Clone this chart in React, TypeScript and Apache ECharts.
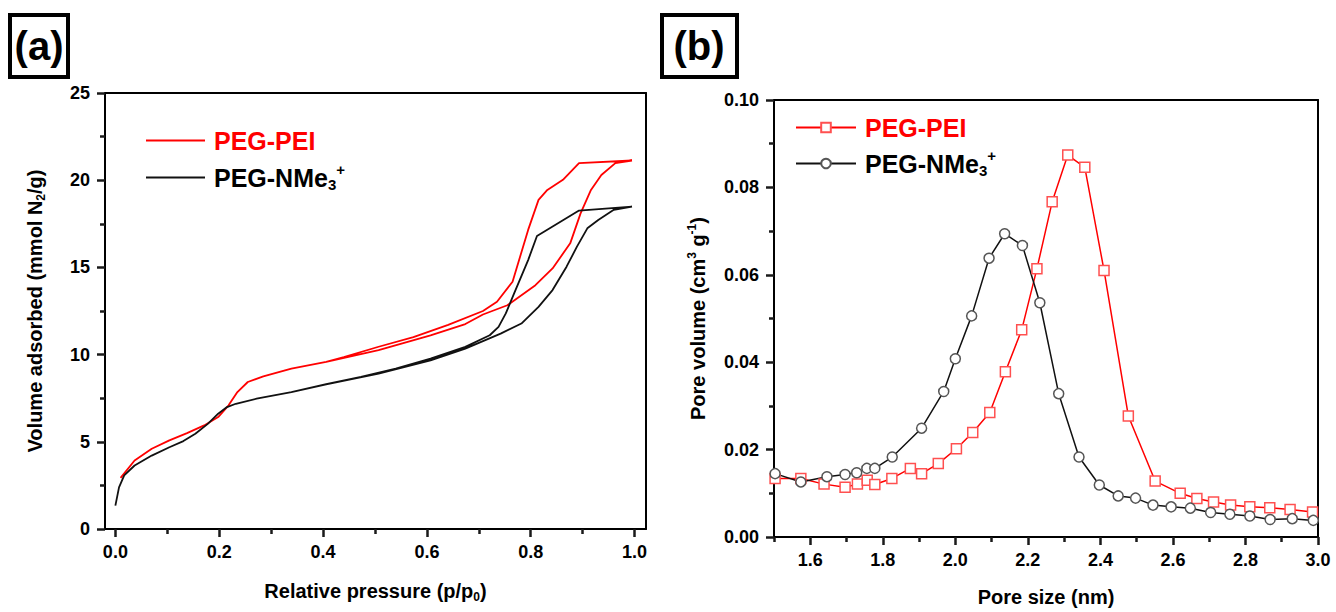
import React, { useEffect, useRef } from 'react';
import * as echarts from 'echarts';

// ---------- Panel (a): N2 isotherms ----------
const PEI_ADS_P = [0.01, 0.037, 0.07, 0.104, 0.138, 0.171, 0.198, 0.218, 0.235, 0.255, 0.285, 0.339, 0.406, 0.507, 0.607, 0.674, 0.708, 0.755, 0.809, 0.842, 0.876, 0.896, 0.916, 0.936, 0.963, 0.995];
const PEI_ADS_V = [2.93, 3.93, 4.6, 5.08, 5.5, 5.94, 6.42, 7.09, 7.85, 8.43, 8.75, 9.2, 9.58, 10.25, 11.1, 11.75, 12.3, 12.83, 13.98, 14.94, 16.38, 18.1, 19.44, 20.3, 20.98, 21.13];
const PEI_DES_P = [0.995, 0.893, 0.862, 0.832, 0.815, 0.795, 0.765, 0.735, 0.708, 0.641, 0.574, 0.507, 0.44, 0.406];
const PEI_DES_V = [21.13, 20.98, 20.02, 19.44, 18.87, 17.15, 14.18, 13.03, 12.5, 11.7, 11.0, 10.45, 9.85, 9.58];

const NME_ADS_P = [0, 0.007, 0.017, 0.037, 0.07, 0.104, 0.131, 0.154, 0.178, 0.198, 0.215, 0.232, 0.272, 0.339, 0.406, 0.507, 0.607, 0.674, 0.742, 0.782, 0.815, 0.842, 0.869, 0.889, 0.909, 0.93, 0.96, 0.995];
const NME_ADS_V = [1.34, 2.39, 3.07, 3.64, 4.21, 4.69, 5.04, 5.46, 6.03, 6.61, 6.99, 7.18, 7.47, 7.85, 8.3, 8.91, 9.67, 10.34, 11.2, 11.78, 12.74, 13.7, 15.04, 16.19, 17.24, 17.72, 18.3, 18.49];
const NME_DES_P = [0.995, 0.893, 0.812, 0.795, 0.768, 0.752, 0.738, 0.721, 0.674, 0.607, 0.54, 0.473, 0.406];
const NME_DES_V = [18.49, 18.26, 16.8, 15.42, 13.51, 12.36, 11.59, 11.11, 10.44, 9.77, 9.2, 8.72, 8.3];

const A_X_MAJOR = [0, 0.2, 0.4, 0.6, 0.8, 1.0];
const A_X_MINOR = [0.1, 0.3, 0.5, 0.7, 0.9];

// ---------- Panel (b): pore size distribution ----------
const PEI_SIZE = [1.503, 1.574, 1.638, 1.696, 1.73, 1.757, 1.778, 1.825, 1.876, 1.907, 1.953, 2.003, 2.048, 2.095, 2.138, 2.183, 2.225, 2.267, 2.31, 2.357, 2.41, 2.477, 2.551, 2.62, 2.666, 2.712, 2.759, 2.812, 2.867, 2.923, 2.985];
const PEI_VOL = [0.0134, 0.0134, 0.0121, 0.0114, 0.0121, 0.013, 0.012, 0.0134, 0.0157, 0.0145, 0.0168, 0.0202, 0.0239, 0.0285, 0.0378, 0.0474, 0.0614, 0.0767, 0.0874, 0.0846, 0.061, 0.0277, 0.0128, 0.01, 0.0088, 0.008, 0.0073, 0.0069, 0.0067, 0.0063, 0.0057];
const NME_SIZE = [1.503, 1.574, 1.646, 1.696, 1.728, 1.756, 1.778, 1.826, 1.907, 1.968, 2.0, 2.045, 2.093, 2.136, 2.185, 2.233, 2.285, 2.341, 2.397, 2.449, 2.497, 2.545, 2.595, 2.648, 2.704, 2.757, 2.812, 2.868, 2.929, 2.987];
const NME_VOL = [0.0145, 0.0126, 0.0138, 0.0143, 0.0147, 0.0157, 0.0157, 0.0183, 0.0249, 0.0333, 0.0408, 0.0506, 0.0638, 0.0694, 0.0667, 0.0536, 0.0328, 0.0183, 0.0119, 0.0094, 0.0089, 0.0073, 0.0069, 0.0066, 0.0056, 0.0052, 0.0048, 0.004, 0.0042, 0.0038];

const B_X_MAJOR = [1.6, 1.8, 2.0, 2.2, 2.4, 2.6, 2.8, 3.0];
const B_X_MINOR = [1.5, 1.7, 1.9, 2.1, 2.3, 2.5, 2.7, 2.9];

const FONT = '"Liberation Sans", Arial, Helvetica, sans-serif';
const RED = '#ff0000';
const BLACK = '#111111';
const TICK = '#1a1a1a';

export default function App() {
  const ref = useRef<HTMLDivElement>(null);
  useEffect(() => {
    const chart = echarts.init(ref.current as HTMLDivElement, null, { renderer: 'svg' });
    const zip = (xs: number[], ys: number[]) => xs.map((x, i) => [x, ys[i]]);

    const tickFont = () => ({ fontFamily: FONT, fontWeight: 'bold' as const, fontSize: 18, color: '#000' });
    const lineSt = () => ({ color: '#000', width: 2 });
    const tickSt = () => ({ color: TICK, width: 2.5 });
    const axisLine = () => ({ show: true, onZero: false, lineStyle: lineSt() });
    const titleRich = {
      t: { fontFamily: FONT, fontWeight: 'bold', fontSize: 20, color: '#000', lineHeight: 24 },
      s: { fontFamily: FONT, fontWeight: 'bold', fontSize: 12, color: '#000', lineHeight: 12, padding: [12, 0, 0, 0] },
      p: { fontFamily: FONT, fontWeight: 'bold', fontSize: 12, color: '#000', lineHeight: 12, padding: [0, 0, 12, 0] },
    };
    const legendRich = {
      r: { fontFamily: FONT, fontWeight: 'bold', fontSize: 25, color: RED, lineHeight: 30, padding: [0, 0, 0, 4] },
      k: { fontFamily: FONT, fontWeight: 'bold', fontSize: 25, color: '#000', lineHeight: 30, padding: [0, 0, 0, 4] },
      s: { fontFamily: FONT, fontWeight: 'bold', fontSize: 15, color: '#000', lineHeight: 15, padding: [14, 0, 0, 0] },
      p: { fontFamily: FONT, fontWeight: 'bold', fontSize: 15, color: '#000', lineHeight: 15, padding: [0, 0, 16, 0] },
    };
    const legendFormatter = (name: string) =>
      name.endsWith('PEI') ? '{r|PEG-PEI}' : '{k|PEG-NMe}{s|3}{p|+}';

    const frameX = (gi: number, min: number, max: number) => ({
      type: 'value', gridIndex: gi, position: 'top', min, max,
      axisLine: axisLine(), axisTick: { show: false }, axisLabel: { show: false }, splitLine: { show: false },
    });
    const frameY = (gi: number, min: number, max: number) => ({
      type: 'value', gridIndex: gi, position: 'right', min, max,
      axisLine: axisLine(), axisTick: { show: false }, axisLabel: { show: false }, splitLine: { show: false },
    });
    const minorX = (gi: number, min: number, max: number, vals: number[]) => ({
      type: 'value', gridIndex: gi, position: 'bottom', min, max,
      axisLine: { show: false },
      axisTick: { show: true, length: 5, lineStyle: tickSt(), customValues: vals },
      axisLabel: { show: false, customValues: vals },
      splitLine: { show: false },
    });

    const option: any = {
      animation: false,
      grid: [
        { left: 105, top: 93, width: 541, height: 436 },
        { left: 774, top: 100, width: 544, height: 438 },
      ],
      xAxis: [
        {
          type: 'value', gridIndex: 0, position: 'bottom', min: -0.02, max: 1.022,
          axisLine: axisLine(),
          axisTick: { show: true, length: 8, lineStyle: tickSt(), customValues: A_X_MAJOR },
          axisLabel: { ...tickFont(), margin: 14, customValues: A_X_MAJOR, formatter: (v: number) => v.toFixed(1) },
          splitLine: { show: false },
          name: '{t|Relative pressure (p/p}{s|0}{t|)}',
          nameLocation: 'middle', nameGap: 50,
          nameTextStyle: { rich: titleRich },
        },
        minorX(0, -0.02, 1.022, A_X_MINOR),
        frameX(0, -0.02, 1.022),
        {
          type: 'value', gridIndex: 1, position: 'bottom', min: 1.5, max: 3.0,
          axisLine: axisLine(),
          axisTick: { show: true, length: 8, lineStyle: tickSt(), customValues: B_X_MAJOR },
          axisLabel: { ...tickFont(), margin: 14, customValues: B_X_MAJOR, formatter: (v: number) => v.toFixed(1) },
          splitLine: { show: false },
          name: '{t|Pore size (nm)}',
          nameLocation: 'middle', nameGap: 48,
          nameTextStyle: { rich: titleRich },
        },
        minorX(1, 1.5, 3.0, B_X_MINOR),
        frameX(1, 1.5, 3.0),
      ],
      yAxis: [
        {
          type: 'value', gridIndex: 0, position: 'left', min: 0, max: 25, interval: 5,
          axisLine: axisLine(),
          axisTick: { show: true, length: 8, lineStyle: tickSt() },
          minorTick: { show: true, splitNumber: 2, length: 5, lineStyle: tickSt() },
          axisLabel: { ...tickFont(), margin: 15 },
          splitLine: { show: false },
          name: '{t|Volume adsorbed (mmol N}{s|2}{t|/g)}',
          nameLocation: 'middle', nameGap: 58,
          nameTextStyle: { rich: titleRich },
        },
        frameY(0, 0, 25),
        {
          type: 'value', gridIndex: 1, position: 'left', min: 0, max: 0.1, interval: 0.02,
          axisLine: axisLine(),
          axisTick: { show: true, length: 8, lineStyle: tickSt() },
          minorTick: { show: true, splitNumber: 2, length: 5, lineStyle: tickSt() },
          axisLabel: { ...tickFont(), margin: 15, formatter: (v: number) => v.toFixed(2) },
          splitLine: { show: false },
          name: '{t|Pore volume (cm}{p|3}{t| g}{p|-1}{t|)}',
          nameLocation: 'middle', nameGap: 64,
          nameTextStyle: { rich: titleRich },
        },
        frameY(1, 0, 0.1),
      ],
      legend: [
        {
          data: [{ name: 'a-PEI', icon: 'rect' }, { name: 'a-NMe', icon: 'rect' }],
          orient: 'vertical', left: 141, top: 123,
          itemWidth: 59, itemHeight: 2, itemGap: 9, selectedMode: false,
          formatter: legendFormatter, textStyle: { rich: legendRich },
        },
        {
          data: ['b-PEI', 'b-NMe'], orient: 'vertical', left: 790, top: 110,
          itemWidth: 60, itemHeight: 12, itemGap: 8, selectedMode: false,
          formatter: legendFormatter, textStyle: { rich: legendRich },
        },
      ],
      series: [
        {
          name: 'a-PEI', type: 'line', xAxisIndex: 0, yAxisIndex: 0,
          data: [...zip(PEI_ADS_P, PEI_ADS_V), ...zip(PEI_DES_P, PEI_DES_V)],
          showSymbol: false, symbol: 'none',
          lineStyle: { color: RED, width: 1.8 }, itemStyle: { color: RED },
        },
        {
          name: 'a-NMe', type: 'line', xAxisIndex: 0, yAxisIndex: 0,
          data: [...zip(NME_ADS_P, NME_ADS_V), ...zip(NME_DES_P, NME_DES_V)],
          showSymbol: false, symbol: 'none',
          lineStyle: { color: BLACK, width: 1.8 }, itemStyle: { color: BLACK },
        },
        {
          name: 'b-PEI', type: 'line', xAxisIndex: 3, yAxisIndex: 2,
          data: zip(PEI_SIZE, PEI_VOL),
          symbol: 'rect', symbolSize: 10,
          lineStyle: { color: RED, width: 1.5 },
          itemStyle: { color: '#ffffff', borderColor: '#ff5050', borderWidth: 1.5 },
        },
        {
          name: 'b-NMe', type: 'line', xAxisIndex: 3, yAxisIndex: 2,
          data: zip(NME_SIZE, NME_VOL),
          symbol: 'circle', symbolSize: 10,
          lineStyle: { color: BLACK, width: 1.5 },
          itemStyle: { color: '#ffffff', borderColor: '#555555', borderWidth: 1.5 },
        },
      ],
      graphic: [
        { type: 'rect', shape: { x: 10, y: 15, width: 58, height: 62 }, style: { fill: 'none', stroke: '#000', lineWidth: 4 } },
        { type: 'text', x: 39, y: 46, style: { text: '(a)', font: `bold 40px ${FONT}`, fill: '#000', align: 'center', verticalAlign: 'middle' } },
        { type: 'rect', shape: { x: 662, y: 15, width: 75, height: 62 }, style: { fill: 'none', stroke: '#000', lineWidth: 4 } },
        { type: 'text', x: 699, y: 46, style: { text: '(b)', font: `bold 40px ${FONT}`, fill: '#000', align: 'center', verticalAlign: 'middle' } },
      ],
    };
    chart.setOption(option);
    return () => chart.dispose();
  }, []);
  return <div ref={ref} style={{ position: 'fixed', left: 0, top: 0, width: 1336, height: 612, background: '#fff' }} />;
}
